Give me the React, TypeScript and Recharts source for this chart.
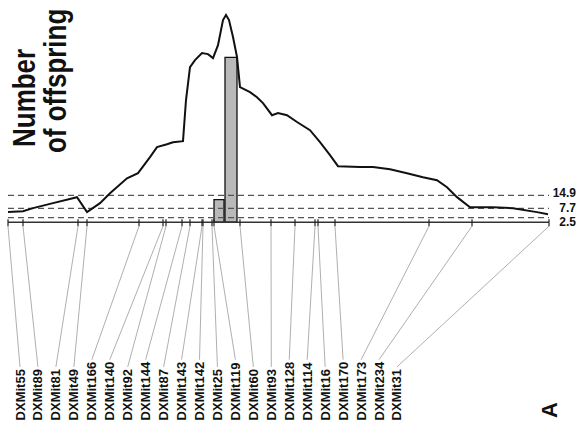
import { ComposedChart, Line, XAxis, YAxis, ReferenceLine, ReferenceArea, ReferenceDot } from "recharts";

// curve: position along the chromosome vs. value
const curvePos = [0, 15, 25, 45, 69, 79, 92, 102, 119, 130, 142, 149, 159, 165, 175, 178, 182, 187, 194, 200, 205, 210, 215, 218, 221, 225, 229, 232, 242, 249, 255, 264, 270, 279, 289, 302, 312, 322, 330, 352, 365, 382, 399, 415, 429, 439, 449, 462, 485, 505, 529, 540];
const curveVal = [5.6, 6.1, 7.8, 10.6, 13.9, 5.6, 10.6, 16.1, 24.4, 27.2, 36.1, 41.7, 43.3, 44.4, 45.0, 67.8, 86.1, 90.0, 93.9, 93.3, 91.1, 98.3, 112.2, 115.0, 112.2, 102.8, 91.7, 75.0, 72.2, 69.4, 66.1, 59.4, 60.6, 59.4, 55.6, 51.1, 44.4, 37.2, 31.1, 30.6, 30.6, 29.4, 27.2, 25.0, 23.3, 19.4, 13.9, 8.3, 8.3, 7.8, 5.6, 4.4];

const markerNames = ["DXMit55", "DXMit89", "DXMit81", "DXMit49", "DXMit166", "DXMit140", "DXMit92", "DXMit144", "DXMit87", "DXMit143", "DXMit142", "DXMit25", "DXMit119", "DXMit60", "DXMit93", "DXMit128", "DXMit114", "DXMit16", "DXMit170", "DXMit173", "DXMit234", "DXMit31"];
const markerPos = [0, 15, 70, 79, 131, 155, 158, 174, 182, 194, 195, 204, 206, 232, 263, 287, 307, 310, 327, 421, 464, 541];

const thresholds = [14.9, 7.7, 2.5];

// two bars near the peak
const barFrom = [206, 217];
const barTo = [216, 229];
const barVal = [12.5, 91.5];

const data = curvePos.map((p, i) => ({ pos: p, v: curveVal[i] }));

const FONT = "'Liberation Sans', Arial, sans-serif";
const LABEL_BASE = -110;

function MarkerLabel({ cx, cy, name }: any) {
  return (
    <text
      transform={`translate(${cx + 4.5},${cy}) rotate(-90)`}
      textAnchor="start"
      fontFamily={FONT}
      fontWeight="bold"
      fontSize={13}
      fill="#111"
    >
      {name}
    </text>
  );
}

export default function App() {
  // small vertical nudges so the three threshold labels don't collide
  const thresholdDy = [-2, 0, 4];
  return (
    <div style={{ position: "absolute", left: 0, top: 0, width: 579, height: 424, background: "#fff" }}>
      <ComposedChart width={579} height={424} data={data} margin={{ top: 6, right: 30, bottom: 0, left: 8 }}>
        <XAxis dataKey="pos" type="number" domain={[0, 541]} hide allowDataOverflow />
        <YAxis type="number" domain={[-112, 120]} hide allowDataOverflow />
        {barVal.map((v, i) => (
          <ReferenceArea key={"b" + i} x1={barFrom[i]} x2={barTo[i]} y1={0} y2={v} fill="#b9b9b9" fillOpacity={1} stroke="#111" strokeWidth={1.3} />
        ))}
        {thresholds.map((t, i) => (
          <ReferenceLine
            key={"t" + i}
            y={t}
            stroke="#555"
            strokeWidth={1.3}
            strokeDasharray="6 4"
            label={{
              content: ({ viewBox }: any) => (
                <text x={576} y={viewBox.y + thresholdDy[i]} dy={4} textAnchor="end" fontFamily={FONT} fontWeight="bold" fontSize={12} fill="#111">
                  {t}
                </text>
              ),
            }}
          />
        ))}
        <ReferenceLine y={0} stroke="#333" strokeWidth={1.5} />
        {markerPos.map((p, i) => (
          <ReferenceLine key={"k" + i} segment={[{ x: p, y: 1.7 }, { x: p, y: -2.2 }]} stroke="#222" strokeWidth={1.2} ifOverflow="visible" />
        ))}
        {markerPos.map((p, i) => (
          <ReferenceLine
            key={"c" + i}
            segment={[
              { x: p, y: -2.2 },
              { x: 12 + 17.95 * i, y: LABEL_BASE + (markerNames[i].length * 7.2 + 3) / 1.8 },
            ]}
            stroke="#9a9a9a"
            strokeWidth={0.8}
            ifOverflow="visible"
          />
        ))}
        {markerNames.map((n, i) => (
          <ReferenceDot key={"l" + i} x={12 + 17.95 * i} y={LABEL_BASE} r={0} shape={(props: any) => <MarkerLabel {...props} name={n} />} />
        ))}
        <Line type="linear" dataKey="v" stroke="#111" strokeWidth={2} dot={false} isAnimationActive={false} />
      </ComposedChart>
      <svg width={579} height={424} style={{ position: "absolute", left: 0, top: 0, pointerEvents: "none" }}>
        <text transform="translate(35,147) rotate(-90) scale(1,1.2)" fontFamily={FONT} fontWeight="bold" fontSize={26} fill="#111">
          Number
        </text>
        <text transform="translate(66,153) rotate(-90) scale(1,1.2)" fontFamily={FONT} fontWeight="bold" fontSize={26} fill="#111">
          of offspring
        </text>
        <text transform="translate(557,410) rotate(-90)" textAnchor="middle" fontFamily={FONT} fontWeight="bold" fontSize={22} fill="#111">
          A
        </text>
      </svg>
    </div>
  );
}
